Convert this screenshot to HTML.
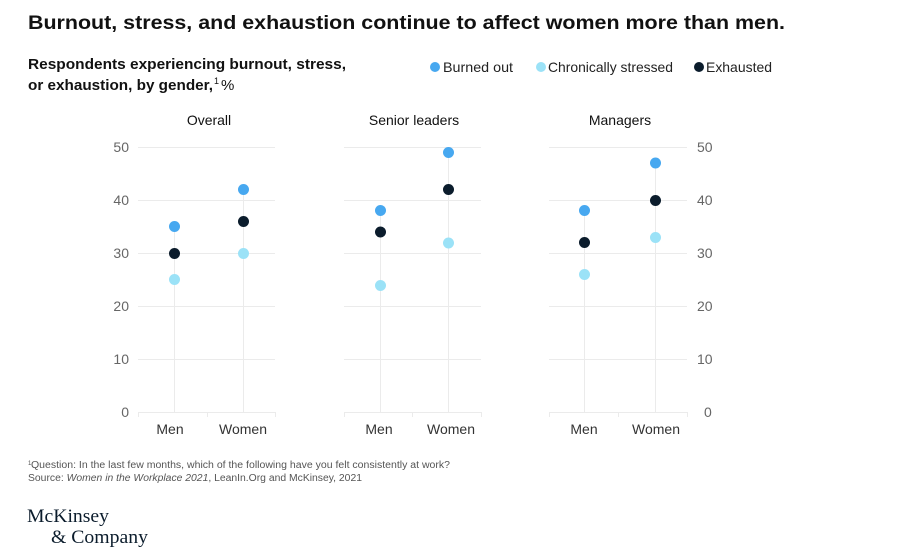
<!DOCTYPE html>
<html><head><meta charset="utf-8"><style>
html,body{margin:0;padding:0;background:#fff;width:915px;height:547px;overflow:hidden}
svg{display:block;font-family:"Liberation Sans",sans-serif}
</style></head><body>
<svg width="915" height="547" viewBox="0 0 915 547">
<text x="28" y="29" font-size="19" font-weight="bold" fill="#111" textLength="757" lengthAdjust="spacingAndGlyphs">Burnout, stress, and exhaustion continue to affect women more than men.</text>
<text x="28" y="69" font-size="15" font-weight="bold" fill="#111" textLength="318" lengthAdjust="spacingAndGlyphs">Respondents experiencing burnout, stress,</text>
<text x="28" y="90" font-size="15" font-weight="bold" fill="#111" textLength="185" lengthAdjust="spacingAndGlyphs">or exhaustion, by gender,</text>
<text x="214" y="84" font-size="9" fill="#111">1</text>
<text x="221" y="90" font-size="15" fill="#111">%</text>
<circle cx="435" cy="67" r="5" fill="#47a8f0"/><text x="443" y="72" font-size="14" fill="#222" textLength="70" lengthAdjust="spacingAndGlyphs">Burned out</text>
<circle cx="541" cy="67" r="5" fill="#9be2f7"/><text x="548" y="72" font-size="14" fill="#222" textLength="125" lengthAdjust="spacingAndGlyphs">Chronically stressed</text>
<circle cx="699" cy="67" r="5" fill="#0b1c2c"/><text x="706" y="72" font-size="14" fill="#222" textLength="66" lengthAdjust="spacingAndGlyphs">Exhausted</text>
<g stroke="#ebebeb" stroke-width="1">
<path d="M138 147.5H275M138 200.5H275M138 253.5H275M138 306.5H275M138 359.5H275M138 412.5H275"/>
<path d="M344 147.5H481M344 200.5H481M344 253.5H481M344 306.5H481M344 359.5H481M344 412.5H481"/>
<path d="M549 147.5H687M549 200.5H687M549 253.5H687M549 306.5H687M549 359.5H687M549 412.5H687"/>
<path d="M138.5 412V417M207.5 412V417M275.5 412V417M344.5 412V417M412.5 412V417M481.5 412V417M549.5 412V417M618.5 412V417M687.5 412V417"/>
<path d="M174.5 227V412M243.5 190V412M380.5 211V412M448.5 153V412M584.5 211V412M655.5 163V412"/>
</g>
<g font-size="14" fill="#666" text-anchor="end">
<text x="129" y="152">50</text><text x="129" y="205">40</text><text x="129" y="258">30</text><text x="129" y="311">20</text><text x="129" y="364">10</text><text x="129" y="417">0</text>
</g>
<g font-size="14" fill="#666">
<text x="697" y="152">50</text><text x="697" y="205">40</text><text x="697" y="258">30</text><text x="697" y="311">20</text><text x="697" y="364">10</text><text x="704" y="417">0</text>
</g>
<g font-size="14" fill="#111" text-anchor="middle">
<text x="209" y="125">Overall</text><text x="414" y="125">Senior leaders</text><text x="620" y="125">Managers</text>
</g>
<g font-size="14" fill="#333" text-anchor="middle">
<text x="170" y="434">Men</text><text x="243" y="434">Women</text>
<text x="379" y="434">Men</text><text x="451" y="434">Women</text>
<text x="584" y="434">Men</text><text x="656" y="434">Women</text>
</g>
<g>
<circle cx="174.5" cy="226.5" r="5.5" fill="#47a8f0"/><circle cx="174.5" cy="279.5" r="5.5" fill="#9be2f7"/><circle cx="174.5" cy="253.5" r="5.5" fill="#0b1c2c"/>
<circle cx="243.5" cy="189.5" r="5.5" fill="#47a8f0"/><circle cx="243.5" cy="253.5" r="5.5" fill="#9be2f7"/><circle cx="243.5" cy="221.5" r="5.5" fill="#0b1c2c"/>
<circle cx="380.5" cy="210.5" r="5.5" fill="#47a8f0"/><circle cx="380.5" cy="285.5" r="5.5" fill="#9be2f7"/><circle cx="380.5" cy="232" r="5.5" fill="#0b1c2c"/>
<circle cx="448.5" cy="152.5" r="5.5" fill="#47a8f0"/><circle cx="448.5" cy="243" r="5.5" fill="#9be2f7"/><circle cx="448.5" cy="189.5" r="5.5" fill="#0b1c2c"/>
<circle cx="584.5" cy="210.5" r="5.5" fill="#47a8f0"/><circle cx="584.5" cy="274.5" r="5.5" fill="#9be2f7"/><circle cx="584.5" cy="242.5" r="5.5" fill="#0b1c2c"/>
<circle cx="655.5" cy="163" r="5.5" fill="#47a8f0"/><circle cx="655.5" cy="237.5" r="5.5" fill="#9be2f7"/><circle cx="655.5" cy="200.5" r="5.5" fill="#0b1c2c"/>
</g>
<text x="28" y="465" font-size="6" fill="#555">1</text>
<text x="31" y="468" font-size="10" fill="#555" textLength="419" lengthAdjust="spacingAndGlyphs">Question: In the last few months, which of the following have you felt consistently at work?</text>
<text x="28" y="481" font-size="10" fill="#555" textLength="334" lengthAdjust="spacingAndGlyphs">Source: <tspan font-style="italic">Women in the Workplace 2021</tspan>, LeanIn.Org and McKinsey, 2021</text>
<text x="27" y="522" font-size="19" fill="#0b1c2c" font-family="Liberation Serif,serif" textLength="82" lengthAdjust="spacingAndGlyphs">McKinsey</text>
<text x="51" y="543" font-size="19" fill="#0b1c2c" font-family="Liberation Serif,serif" textLength="97" lengthAdjust="spacingAndGlyphs">&amp; Company</text>
</svg>
</body></html>
